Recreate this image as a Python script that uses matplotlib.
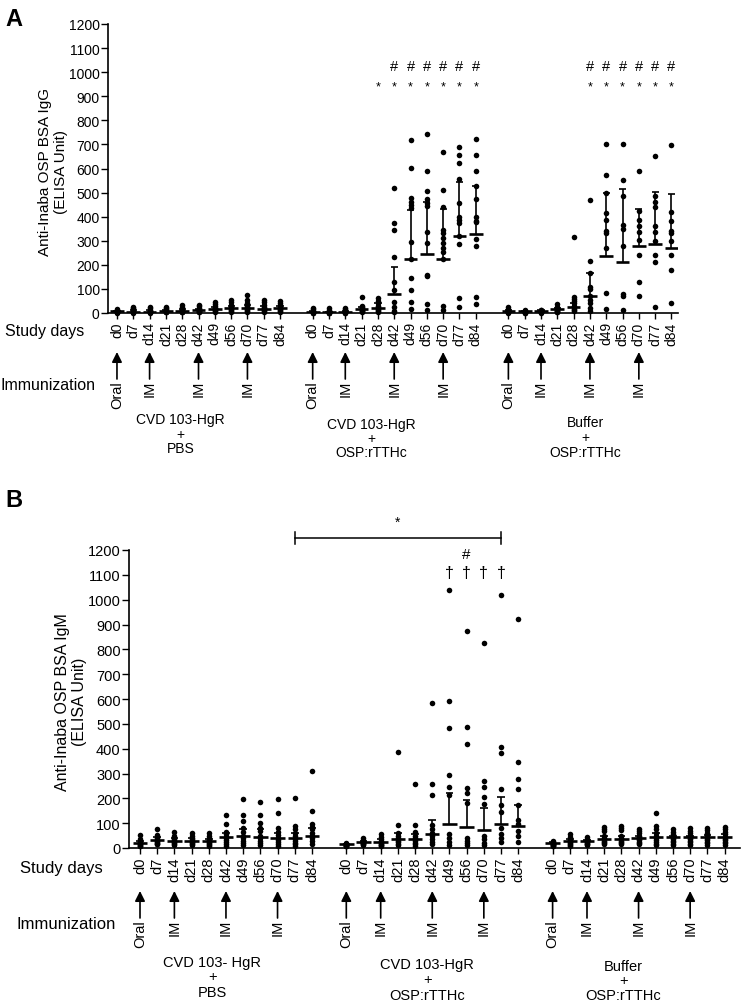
import matplotlib
matplotlib.use('Agg')
import matplotlib.pyplot as plt
import matplotlib.transforms as mtransforms
import numpy as np

plt.rcParams['font.family'] = ['Liberation Sans', 'DejaVu Sans']

days = ['d0', 'd7', 'd14', 'd21', 'd28', 'd42', 'd49', 'd56', 'd70', 'd77', 'd84']
arrow_days = ['d0', 'd14', 'd42', 'd70']
arrow_labels = ['Oral', 'IM', 'IM', 'IM']

# ---- Panel A: IgG, one list of dots per study day ----
igg_pbs = [
    [15, 12, 10, 8, 7, 6, 5, 4, 3, 2],
    [26, 20, 15, 10, 8, 6, 5, 4, 3, 2],
    [26, 20, 14, 10, 8, 6, 5, 4, 3, 2],
    [26, 22, 16, 12, 10, 9, 7, 5, 4, 3],
    [32, 25, 18, 14, 11, 10, 8, 6, 5, 3],
    [35, 28, 20, 16, 13, 12, 10, 8, 6, 4],
    [47, 38, 28, 22, 19, 18, 15, 12, 9, 6],
    [56, 45, 35, 26, 22, 20, 17, 13, 10, 6],
    [73, 56, 42, 30, 24, 20, 17, 13, 10, 6],
    [54, 44, 34, 25, 20, 18, 15, 12, 9, 6],
    [51, 42, 33, 25, 21, 20, 16, 12, 9, 6],
]
igg_pbs_mid = [7, 6, 6, 9, 10, 12, 18, 20, 20, 18, 20]
igg_pbs_top = [10, 12, 12, 14, 16, 18, 26, 30, 32, 28, 28]

igg_cvd = [
    [22, 15, 10, 8, 6, 5, 4, 3, 2, 2],
    [19, 12, 8, 5, 4, 3, 3, 2, 2, 1],
    [22, 15, 10, 8, 6, 5, 4, 3, 2, 2],
    [66, 30, 24, 20, 18, 16, 14, 10, 7, 5],
    [61, 50, 40, 30, 24, 20, 16, 12, 8, 5],
    [518, 372, 345, 234, 130, 96, 44, 24, 10, 5],
    [718, 604, 476, 462, 448, 435, 296, 224, 147, 96, 44, 17],
    [743, 591, 505, 473, 457, 443, 335, 291, 158, 152, 37, 14],
    [667, 511, 439, 346, 332, 311, 291, 269, 252, 224, 30, 14],
    [688, 658, 623, 557, 455, 397, 388, 372, 321, 285, 61, 26],
    [723, 658, 588, 526, 473, 397, 383, 377, 307, 277, 68, 37],
]
igg_cvd_mid = [6, 3, 6, 18, 20, 79, 224, 246, 224, 321, 328]
igg_cvd_top = [9, 6, 9, 24, 40, 192, 428, 462, 432, 543, 529]

igg_buf = [
    [24, 16, 12, 10, 8, 6, 5, 4, 3, 2],
    [14, 10, 8, 7, 6, 5, 4, 3, 2, 2],
    [14, 12, 10, 8, 7, 6, 5, 4, 3, 2],
    [37, 25, 20, 17, 15, 12, 10, 8, 5, 3],
    [314, 65, 58, 50, 40, 30, 24, 18, 12, 8],
    [469, 215, 165, 110, 100, 69, 55, 40, 20, 8],
    [702, 573, 497, 415, 386, 342, 332, 270, 82, 17],
    [702, 554, 487, 367, 349, 280, 79, 72, 14],
    [588, 425, 386, 363, 335, 305, 242, 130, 72],
    [653, 487, 460, 439, 362, 335, 300, 242, 213, 26],
    [699, 418, 383, 341, 332, 300, 242, 180, 40],
]
igg_buf_mid = [10, 7, 10, 17, 24, 69, 235, 210, 277, 287, 269]
igg_buf_top = [14, 9, 12, 22, 40, 165, 497, 515, 432, 501, 494]

# ---- Panel B: IgM ----
igm_pbs = [
    [54, 35, 28, 24, 20, 18, 15, 12, 10, 8],
    [77, 52, 45, 40, 34, 30, 26, 22, 18, 15],
    [63, 48, 40, 35, 30, 27, 24, 20, 17, 14],
    [59, 50, 42, 35, 30, 28, 24, 20, 16, 12],
    [59, 48, 40, 34, 28, 26, 22, 18, 14, 10],
    [133, 97, 66, 55, 45, 40, 33, 25, 18, 10],
    [197, 133, 110, 79, 65, 50, 40, 30, 20, 12],
    [186, 133, 101, 80, 68, 48, 40, 30, 20, 12],
    [197, 140, 81, 65, 52, 40, 32, 25, 18, 10],
    [201, 87, 75, 62, 48, 38, 30, 22, 15, 10],
    [309, 150, 97, 85, 75, 62, 50, 40, 28, 15],
]
igm_pbs_mid = [20, 34, 30, 30, 28, 43, 47, 45, 39, 39, 50]
igm_pbs_top = [30, 45, 40, 40, 38, 60, 75, 75, 60, 60, 80]

igm_cvd = [
    [21, 18, 16, 15, 13, 12, 11, 10, 9, 8],
    [40, 33, 28, 25, 23, 21, 19, 17, 15, 12],
    [58, 45, 35, 28, 24, 20, 17, 14, 12, 10],
    [387, 91, 60, 48, 40, 35, 30, 25, 18, 12],
    [256, 91, 65, 50, 40, 35, 28, 22, 15, 10],
    [585, 259, 212, 91, 75, 60, 48, 38, 25, 15],
    [1038, 592, 483, 293, 246, 215, 55, 40, 25, 12],
    [873, 487, 418, 242, 223, 182, 40, 30, 20, 12],
    [826, 268, 246, 205, 179, 50, 35, 20, 12],
    [1018, 407, 384, 239, 172, 145, 80, 55, 40, 25],
    [921, 346, 279, 239, 172, 112, 95, 70, 50, 25],
]
igm_cvd_mid = [16, 24, 24, 35, 35, 58, 98, 85, 74, 98, 88]
igm_cvd_top = [18, 30, 35, 60, 55, 114, 223, 192, 161, 205, 172]

igm_buf = [
    [30, 25, 21, 18, 16, 15, 14, 12, 10, 8],
    [58, 45, 38, 32, 28, 24, 20, 16, 12, 10],
    [44, 38, 33, 30, 28, 25, 22, 18, 15, 12],
    [85, 78, 70, 50, 40, 35, 30, 25, 20, 15],
    [87, 80, 72, 50, 40, 35, 30, 25, 20, 15],
    [78, 70, 60, 50, 44, 38, 32, 26, 20, 15],
    [142, 89, 75, 60, 48, 40, 32, 25, 18, 12],
    [75, 65, 55, 48, 42, 36, 30, 24, 18, 12],
    [80, 70, 60, 50, 42, 36, 30, 24, 18, 12],
    [80, 72, 62, 52, 44, 38, 32, 26, 20, 14],
    [85, 75, 65, 55, 45, 38, 32, 26, 20, 14],
]
igm_buf_mid = [22, 28, 30, 38, 38, 42, 44, 43, 43, 43, 44]
igm_buf_top = [26, 35, 34, 50, 50, 50, 60, 50, 50, 52, 55]

W, H = 742, 1004


def fy(py):
    return 1 - py / H


def xpos(group, day):
    return days.index(day) + 12 * group


def draw_groups(ax, groups):
    for g, (vals, mids, tops) in enumerate(groups):
        for i, day in enumerate(days):
            x = xpos(g, day)
            ax.plot(np.full(len(vals[i]), x), vals[i], 'o', color='black',
                    ms=4, mew=0, clip_on=False, zorder=3)
            ax.hlines(mids[i], x - 0.42, x + 0.42, color='black', lw=1.9, zorder=4)
            ax.vlines(x, mids[i], tops[i], color='black', lw=1.2, zorder=4)
            ax.hlines(tops[i], x - 0.22, x + 0.22, color='black', lw=1.2, zorder=4)


def style_axis(ax, xlim, fs):
    ax.set_xlim(*xlim)
    ax.set_ylim(0, 1200)
    ax.set_yticks(range(0, 1201, 100))
    ticks = [xpos(g, d) for g in range(3) for d in days]
    ax.set_xticks(ticks)
    ax.set_xticklabels(days * 3, rotation=90, fontsize=fs)
    ax.tick_params(axis='y', labelsize=fs, length=5, width=1, pad=1)
    ax.tick_params(axis='x', length=4, width=1, pad=2)
    for s in ['top', 'right']:
        ax.spines[s].set_visible(False)
    for s in ['left', 'bottom']:
        ax.spines[s].set_linewidth(1.2)


def draw_schedule(ax, tip, base, lab_y, group_x, group_lines, name_fs):
    tr = mtransforms.blended_transform_factory(ax.transData, fig.transFigure)
    for g in range(3):
        for day, lab in zip(arrow_days, arrow_labels):
            x = xpos(g, day)
            ax.annotate('', xy=(x, fy(tip)), xytext=(x, fy(base)),
                        xycoords=tr, textcoords=tr, annotation_clip=False,
                        arrowprops=dict(arrowstyle='-|>', color='black', lw=1.2,
                                        mutation_scale=15, shrinkA=0, shrinkB=0))
            ax.text(x, fy(base + 1), lab, rotation=90, ha='center', va='top',
                    fontsize=10.5, transform=tr)
        for text, py in zip(lab_y[g], group_lines[g]):
            ax.text(group_x[g], fy(py), text, ha='center', va='center',
                    fontsize=name_fs, transform=tr)


fig = plt.figure(figsize=(W / 100, H / 100), dpi=100)

# Panel A
axA = fig.add_axes([108 / W, fy(314), 570 / W, 289 / H])
draw_groups(axA, [(igg_pbs, igg_pbs_mid, igg_pbs_top),
                  (igg_cvd, igg_cvd_mid, igg_cvd_top),
                  (igg_buf, igg_buf_mid, igg_buf_top)])
style_axis(axA, (-0.55, 34.4), 10)
for d in ['d28', 'd42', 'd49', 'd56', 'd70', 'd77', 'd84']:
    axA.text(xpos(1, d), 939, '*', ha='center', va='center', fontsize=9)
for d in ['d42', 'd49', 'd56', 'd70', 'd77', 'd84']:
    axA.text(xpos(1, d), 1026, '#', ha='center', va='center', fontsize=10.5)
    axA.text(xpos(2, d), 939, '*', ha='center', va='center', fontsize=9)
    axA.text(xpos(2, d), 1026, '#', ha='center', va='center', fontsize=10.5)

fig.text(5 / W, fy(20), 'A', fontsize=17, weight='bold', va='center')
fig.text(53 / W, fy(172), 'Anti-Inaba OSP BSA IgG\n(ELISA Unit)', rotation=90,
         ha='center', va='center', fontsize=11, linespacing=1.15)
fig.text(5 / W, fy(332), 'Study days', fontsize=11.5, va='center')
fig.text(0 / W, fy(385), 'Immunization', fontsize=11.5, va='center')
names_a = [['CVD 103-HgR', '+', 'PBS'],
           ['CVD 103-HgR', '+', 'OSP:rTTHc'],
           ['Buffer', '+', 'OSP:rTTHc']]
draw_schedule(axA, 353, 380, names_a, [3.9, 15.6, 28.7],
              [[420, 435, 449], [425, 439, 453], [423, 438, 453]], 10)

# Panel B
axB = fig.add_axes([129 / W, fy(849), 611 / W, 298 / H])
draw_groups(axB, [(igm_pbs, igm_pbs_mid, igm_pbs_top),
                  (igm_cvd, igm_cvd_mid, igm_cvd_top),
                  (igm_buf, igm_buf_mid, igm_buf_top)])
style_axis(axB, (-0.64, 34.9), 10.5)
x1, x2 = xpos(0, 'd77'), xpos(1, 'd77')
axB.plot([x1, x2], [1248, 1248], color='black', lw=1.1, clip_on=False)
axB.plot([x1, x1], [1225, 1271], color='black', lw=1.1, clip_on=False)
axB.plot([x2, x2], [1225, 1271], color='black', lw=1.1, clip_on=False)
axB.text((x1 + x2) / 2, 1313, '*', ha='center', va='center', fontsize=10)
axB.text(xpos(1, 'd56'), 1184, '#', ha='center', va='center', fontsize=11)
for d in ['d49', 'd56', 'd70', 'd77']:
    axB.text(xpos(1, d), 1111, '\u2020', ha='center', va='center', fontsize=11.5)

fig.text(5 / W, fy(501), 'B', fontsize=17, weight='bold', va='center')
fig.text(71 / W, fy(702), 'Anti-Inaba OSP BSA IgM\n(ELISA Unit)', rotation=90,
         ha='center', va='center', fontsize=11.5, linespacing=1.15)
fig.text(20 / W, fy(869), 'Study days', fontsize=12, va='center')
fig.text(17 / W, fy(925), 'Immunization', fontsize=12, va='center')
names_b = [['CVD 103- HgR', '+', 'PBS'],
           ['CVD 103-HgR', '+', 'OSP:rTTHc'],
           ['Buffer', '+', 'OSP:rTTHc']]
draw_schedule(axB, 892, 919, names_b, [4.2, 16.7, 28.1],
              [[963, 977, 993], [965, 980, 996], [967, 981, 996]], 10.5)

fig.savefig('out.png', dpi=100)
